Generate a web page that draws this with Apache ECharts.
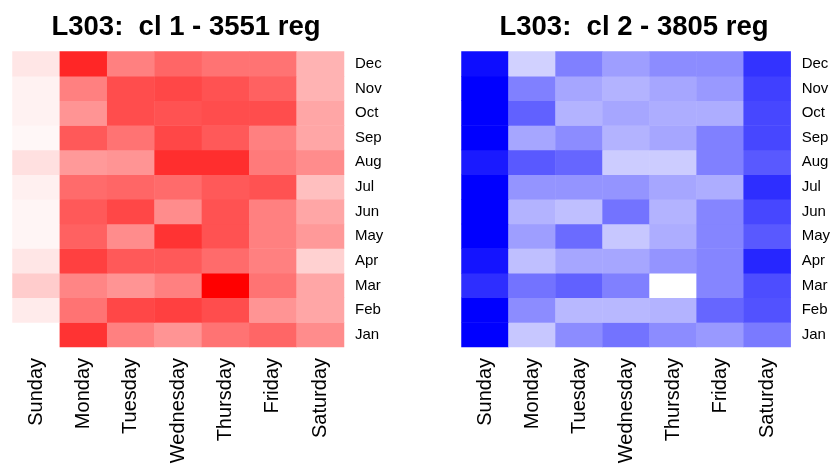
<!DOCTYPE html>
<html>
<head>
<meta charset="utf-8">
<script src="https://cdn.jsdelivr.net/npm/echarts@6/dist/echarts.min.js"></script>
<style>
  html, body { margin: 0; padding: 0; background: #ffffff; }
  #chart { width: 833px; height: 470px; }
</style>
</head>
<body>
<div id="chart"></div>
<script>
// Day-of-week columns and month rows (Jan at the bottom)
const days = ['Sunday', 'Monday', 'Tuesday', 'Wednesday', 'Thursday', 'Friday', 'Saturday'];
const months = ['Jan', 'Feb', 'Mar', 'Apr', 'May', 'Jun', 'Jul', 'Aug', 'Sep', 'Oct', 'Nov', 'Dec'];

const title1 = 'L303:  cl 1 - 3551 reg';
const title2 = 'L303:  cl 2 - 3805 reg';

// Relative intensity (0-100) per month, one row per month, columns Sunday..Saturday
const cluster1 = [
  [ 0, 80, 50, 42, 55, 60, 45], // Jan
  [ 8, 55, 72, 75, 70, 42, 35], // Feb
  [20, 48, 42, 50, 100, 55, 35], // Mar
  [10, 75, 65, 65, 58, 50, 18], // Apr
  [ 4, 62, 45, 80, 68, 50, 40], // May
  [ 4, 65, 72, 45, 68, 50, 35], // Jun
  [ 6, 58, 60, 58, 65, 68, 25], // Jul
  [12, 40, 42, 82, 82, 52, 45], // Aug
  [ 3, 65, 55, 72, 65, 50, 35], // Sep
  [ 5, 42, 70, 68, 70, 70, 35], // Oct
  [ 5, 50, 70, 72, 68, 62, 30], // Nov
  [10, 85, 50, 60, 55, 55, 30]  // Dec
];

const cluster2 = [
  [100, 22, 45, 55, 45, 40, 52], // Jan
  [100, 45, 28, 28, 30, 60, 68], // Feb
  [ 82, 55, 62, 50,  0, 48, 70], // Mar
  [ 92, 25, 35, 35, 42, 48, 85], // Apr
  [100, 38, 58, 22, 32, 48, 65], // May
  [100, 30, 25, 55, 30, 48, 72], // Jun
  [100, 42, 42, 42, 35, 32, 82], // Jul
  [ 90, 65, 60, 20, 20, 50, 65], // Aug
  [100, 35, 45, 30, 35, 50, 72], // Sep
  [100, 62, 30, 35, 32, 32, 72], // Oct
  [100, 50, 35, 30, 35, 40, 75], // Nov
  [ 95, 18, 50, 38, 45, 45, 80]  // Dec
];

function toCells(rows) {
  const out = [];
  rows.forEach((row, m) => row.forEach((v, d) => out.push([d, m, v])));
  return out;
}

const font = 'Liberation Sans, Arial, Helvetica, sans-serif';

function xAxisFor(idx) {
  return {
    type: 'category', data: days, gridIndex: idx,
    axisLine: { show: false }, axisTick: { show: false }, splitLine: { show: false },
    axisLabel: { rotate: 90, margin: 11, color: '#000', fontSize: 20, fontFamily: font, interval: 0 }
  };
}
function yAxisFor(idx) {
  return {
    type: 'category', data: months, gridIndex: idx, position: 'right',
    axisLine: { show: false }, axisTick: { show: false }, splitLine: { show: false },
    axisLabel: { margin: 11, color: '#000', fontSize: 15, fontFamily: font, interval: 0 }
  };
}

const chart = echarts.init(document.getElementById('chart'), null, { renderer: 'canvas' });
chart.setOption({
  animation: false,
  backgroundColor: '#ffffff',
  title: [
    { text: title1, left: 181, top: 8, textAlign: 'center',
      textStyle: { fontSize: 27.5, fontWeight: 'bold', color: '#000', fontFamily: font } },
    { text: title2, left: 629, top: 8, textAlign: 'center',
      textStyle: { fontSize: 27.5, fontWeight: 'bold', color: '#000', fontFamily: font } }
  ],
  grid: [
    { left: 12.5, top: 51.5, width: 331.5, height: 295.5 },
    { left: 461.5, top: 51.5, width: 331.5, height: 295.5 }
  ],
  xAxis: [xAxisFor(0), xAxisFor(1)],
  yAxis: [yAxisFor(0), yAxisFor(1)],
  visualMap: [
    { type: 'continuous', show: false, seriesIndex: 0, min: 0, max: 100,
      inRange: { color: ['#ffffff', '#ff0000'] } },
    { type: 'continuous', show: false, seriesIndex: 1, min: 0, max: 100,
      inRange: { color: ['#ffffff', '#0000ff'] } }
  ],
  series: [
    { type: 'heatmap', xAxisIndex: 0, yAxisIndex: 0, data: toCells(cluster1),
      itemStyle: { borderWidth: 0 }, emphasis: { disabled: true } },
    { type: 'heatmap', xAxisIndex: 1, yAxisIndex: 1, data: toCells(cluster2),
      itemStyle: { borderWidth: 0 }, emphasis: { disabled: true } }
  ]
});
</script>
</body>
</html>
